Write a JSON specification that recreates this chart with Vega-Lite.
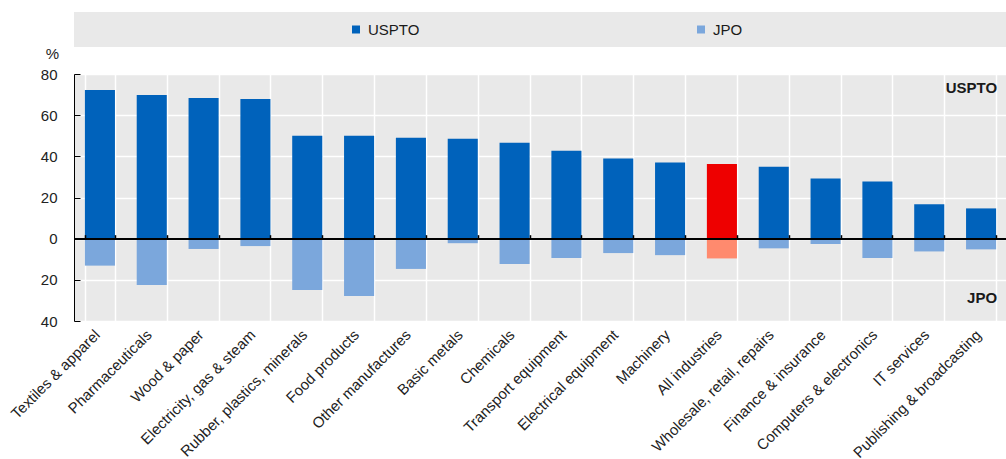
{
  "$schema": "https://vega.github.io/schema/vega-lite/v6.json",
  "padding": {"left": 8, "top": 12, "right": 0, "bottom": 0},
  "autosize": {"type": "pad"},
  "background": "white",
  "spacing": -1,
  "config": {
    "font": "Liberation Sans",
    "view": {"fill": "#e9e9e9", "stroke": null},
    "axis": {"labelColor": "#222222", "labelFont": "Liberation Sans", "titleFont": "Liberation Sans"}
  },
  "datasets": {
    "bars": [
      {"category": "Textiles & apparel", "series": "USPTO", "value": 72.2},
      {"category": "Textiles & apparel", "series": "JPO", "value": -13.1},
      {"category": "Pharmaceuticals", "series": "USPTO", "value": 69.8},
      {"category": "Pharmaceuticals", "series": "JPO", "value": -22.5},
      {"category": "Wood & paper", "series": "USPTO", "value": 68.4},
      {"category": "Wood & paper", "series": "JPO", "value": -5},
      {"category": "Electricity, gas & steam", "series": "USPTO", "value": 67.9},
      {"category": "Electricity, gas & steam", "series": "JPO", "value": -3.6},
      {"category": "Rubber, plastics, minerals", "series": "USPTO", "value": 50},
      {"category": "Rubber, plastics, minerals", "series": "JPO", "value": -24.9},
      {"category": "Food products", "series": "USPTO", "value": 50},
      {"category": "Food products", "series": "JPO", "value": -27.8},
      {"category": "Other manufactures", "series": "USPTO", "value": 49},
      {"category": "Other manufactures", "series": "JPO", "value": -14.7},
      {"category": "Basic metals", "series": "USPTO", "value": 48.5},
      {"category": "Basic metals", "series": "JPO", "value": -2.2},
      {"category": "Chemicals", "series": "USPTO", "value": 46.6},
      {"category": "Chemicals", "series": "JPO", "value": -12.3},
      {"category": "Transport equipment", "series": "USPTO", "value": 42.7},
      {"category": "Transport equipment", "series": "JPO", "value": -9.4},
      {"category": "Electrical equipment", "series": "USPTO", "value": 38.9},
      {"category": "Electrical equipment", "series": "JPO", "value": -7},
      {"category": "Machinery", "series": "USPTO", "value": 37},
      {"category": "Machinery", "series": "JPO", "value": -8},
      {"category": "All industries", "series": "USPTO", "value": 36.3},
      {"category": "All industries", "series": "JPO", "value": -9.6},
      {"category": "Wholesale, retail, repairs", "series": "USPTO", "value": 34.9},
      {"category": "Wholesale, retail, repairs", "series": "JPO", "value": -4.7},
      {"category": "Finance & insurance", "series": "USPTO", "value": 29.2},
      {"category": "Finance & insurance", "series": "JPO", "value": -2.6},
      {"category": "Computers & electronics", "series": "USPTO", "value": 27.8},
      {"category": "Computers & electronics", "series": "JPO", "value": -9.4},
      {"category": "IT services", "series": "USPTO", "value": 16.7},
      {"category": "IT services", "series": "JPO", "value": -6.2},
      {"category": "Publishing & broadcasting", "series": "USPTO", "value": 14.7},
      {"category": "Publishing & broadcasting", "series": "JPO", "value": -5.2}
    ]
  },
  "vconcat": [
    {
      "width": 933,
      "height": 35,
      "data": {"values": [{"series": "USPTO"}, {"series": "JPO"}]},
      "encoding": {
        "x": {"field": "series", "type": "nominal", "scale": {"type": "point", "domain": ["USPTO", "JPO"], "padding": 0.852}, "axis": null}
      },
      "layer": [
        {
          "mark": {"type": "point", "shape": "square", "filled": true, "size": 64, "opacity": 1, "xOffset": -12},
          "encoding": {
            "color": {"field": "series", "type": "nominal", "scale": {"domain": ["USPTO", "JPO"], "range": ["#0062bb", "#7ba7dc"]}, "legend": null}
          }
        },
        {
          "mark": {"type": "text", "align": "left", "baseline": "middle", "fontSize": 15, "color": "#1a1a1a"},
          "encoding": {"text": {"field": "series"}}
        }
      ]
    },
    {
      "width": 933,
      "height": 247,
      "data": {"name": "bars"},
      "layer": [
        {
          "transform": [{"filter": "datum.series == 'USPTO'"}],
          "mark": {"type": "bar"},
          "encoding": {
            "x": {
              "field": "category", "type": "nominal", "sort": null,
              "scale": {"paddingInner": 0.42, "paddingOuter": 0.21},
              "axis": {"orient": "bottom", "title": null, "labelAngle": -45, "labelFontSize": 15, "labelPadding": 6, "labelOffset": -8, "ticks": false, "domain": false, "grid": true, "gridColor": "white", "gridWidth": 1.5, "tickBand": "extent", "zindex": 0}
            },
            "y": {
              "field": "value", "type": "quantitative",
              "scale": {"domain": [-40, 80], "nice": false},
              "axis": {"values": [-40, -20, 0, 20, 40, 60, 80], "labelExpr": "'' + abs(datum.value)", "title": "%", "titleAngle": 0, "titleX": -22, "titleY": -13, "titleAlign": "center", "titleBaseline": "bottom", "titleFontSize": 15, "titleFontWeight": "normal", "titleColor": "#222222", "labelFontSize": 15, "domainColor": "black", "tickColor": "black", "tickSize": -6, "labelPadding": 23, "grid": true, "gridColor": "white", "gridWidth": 1.5, "zindex": 0}
            },
            "color": {
              "condition": [
                {"test": "datum.category == 'All industries' && datum.series == 'USPTO'", "value": "#ee0000"},
                {"test": "datum.category == 'All industries' && datum.series == 'JPO'", "value": "#ff8a6e"}
              ],
              "field": "series", "type": "nominal",
              "scale": {"domain": ["USPTO", "JPO"], "range": ["#0062bb", "#7ba7dc"]},
              "legend": null
            }
          }
        },
        {
          "transform": [{"filter": "datum.series == 'JPO'"}],
          "mark": {"type": "bar"},
          "encoding": {
            "x": {
              "field": "category", "type": "nominal", "sort": null,
              "axis": {"orient": "top", "offset": -164.67, "title": null, "labels": false, "domain": false, "grid": false, "ticks": true, "tickSize": 4, "tickColor": "black", "tickWidth": 1.5, "tickBand": "extent", "zindex": 1}
            },
            "y": {"field": "value", "type": "quantitative"},
            "color": {
              "condition": [
                {"test": "datum.category == 'All industries' && datum.series == 'USPTO'", "value": "#ee0000"},
                {"test": "datum.category == 'All industries' && datum.series == 'JPO'", "value": "#ff8a6e"}
              ],
              "field": "series", "type": "nominal",
              "legend": null
            }
          }
        },
        {
          "mark": {"type": "rule", "color": "black", "strokeWidth": 1.2},
          "encoding": {"y": {"datum": 0}}
        },
        {
          "data": {"values": [{"label": "USPTO"}]},
          "mark": {"type": "text", "align": "right", "baseline": "middle", "fontSize": 15, "fontWeight": "bold", "color": "#1a1a1a", "dx": 16},
          "encoding": {
            "x": {"datum": "Publishing & broadcasting", "axis": null},
            "y": {"datum": 73},
            "text": {"field": "label"}
          }
        },
        {
          "data": {"values": [{"label": "JPO"}]},
          "mark": {"type": "text", "align": "right", "baseline": "middle", "fontSize": 15, "fontWeight": "bold", "color": "#1a1a1a", "dx": 16},
          "encoding": {
            "x": {"datum": "Publishing & broadcasting", "axis": null},
            "y": {"datum": -29},
            "text": {"field": "label"}
          }
        }
      ],
      "resolve": {"axis": {"x": "independent"}}
    }
  ]
}
